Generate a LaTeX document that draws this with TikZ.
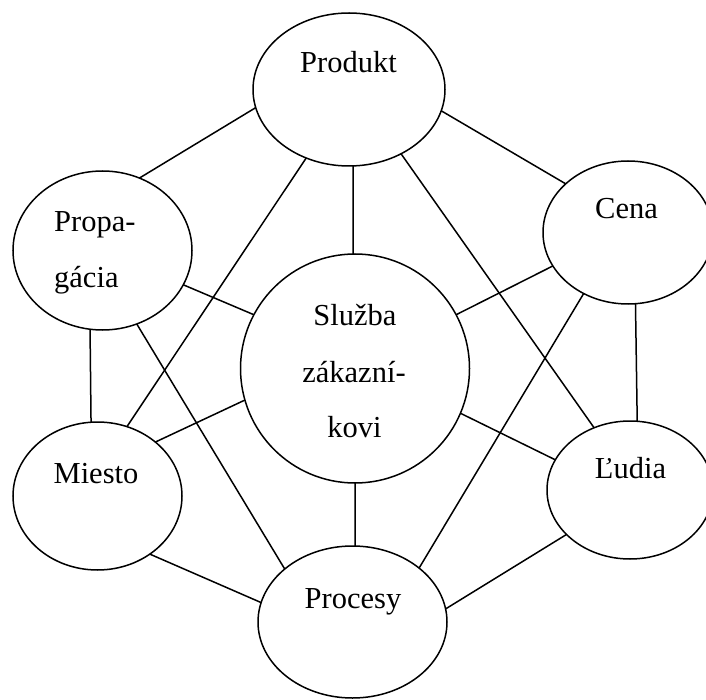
\documentclass[tikz,border=0pt]{standalone}
\usepackage{fontspec}
\setmainfont{Liberation Serif}
\usetikzlibrary{shapes.geometric}
\begin{document}
\begin{tikzpicture}[x=1pt,y=-1pt,
  bubble/.style={draw,ellipse,line width=1.5pt,inner sep=0pt,outer sep=0pt},
  lbl/.style={anchor=base,inner sep=0pt,font=\fontsize{30.5}{36}\selectfont},
  lblw/.style={anchor=base west,inner sep=0pt,font=\fontsize{30.5}{36}\selectfont},
  link/.style={line width=1.5pt}]
\useasboundingbox (0,0) rectangle (706,700);
\clip (0,0) rectangle (706,700);
% shapes
\node[bubble,minimum width=192pt,minimum height=153pt] (P) at (349,89.5) {};
\node[bubble,minimum width=179pt,minimum height=159pt] (G) at (102.5,250.5) {};
\node[bubble,minimum width=170pt,minimum height=143pt] (C) at (628,232.5) {};
\node[bubble,circle,minimum size=229pt] (S) at (355,368.5) {};
\node[bubble,minimum width=169pt,minimum height=148pt] (M) at (97.5,496) {};
\node[bubble,minimum width=166pt,minimum height=138pt] (L) at (630,490) {};
\node[bubble,minimum width=189pt,minimum height=152pt] (R) at (352.5,622) {};
% labels
\node[lbl] (tP) at (348.5,73) {Produkt};
\node[lblw] (tG1) at (54,232) {Propa-};
\node[lblw] (tG2) at (54,288) {gácia};
\node[lbl] (tC) at (626.5,219) {Cena};
\node[lbl] (tS1) at (355,325) {Služba};
\node[lbl] (tS2) at (354,382) {zákazní-};
\node[lbl] (tS3) at (354.5,437) {kovi};
\node[lbl] (tM) at (96,483) {Miesto};
\node[lbl] (tL) at (630.5,478) {Ľudia};
\node[lbl] (tR) at (353,608) {Procesy};
% connectors
\draw[link] (P.191) -- (G.63);
\draw[link] (P.347.6) -- (C.142.7);
\draw[link] (P.273) -- (S.91);
\draw[link] (P.238.7) -- (M.67.3);
\draw[link] (P.309.5) -- (L.120.8);
\draw[link] (G.337) -- (S.152.3);
\draw[link] (G.261.8) -- (M.95);
\draw[link] (G.295.4) -- (R.142.5);
\draw[link] (C.204.7) -- (S.28.6);
\draw[link] (C.276.4) -- (L.84.2);
\draw[link] (C.234.2) -- (R.39.5);
\draw[link] (S.196.1) -- (M.43.2);
\draw[link] (S.337) -- (L.158.2);
\draw[link] (S.270) -- (R.88);
\draw[link] (M.312.7) -- (R.168.1);
\draw[link] (L.215.3) -- (R.8.4);
\end{tikzpicture}
\end{document}
